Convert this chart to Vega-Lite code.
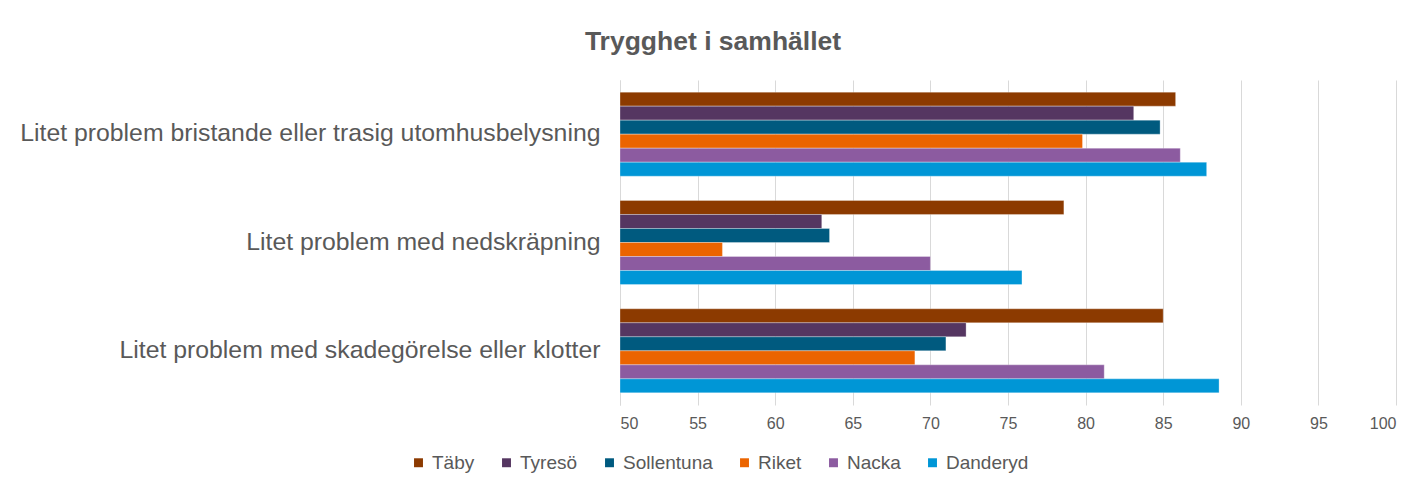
{
  "$schema": "https://vega.github.io/schema/vega-lite/v6.json",
  "autosize": "none",
  "width": 776,
  "height": 325,
  "padding": {"left": 620, "top": 80, "right": 25, "bottom": 74},
  "background": "white",
  "title": {"text": "Trygghet i samhället", "anchor": "middle", "dx": -295, "offset": 25, "font": "Liberation Sans", "fontSize": 26.5, "fontWeight": "bold", "color": "#595959"},
  "data": {"values": [
    {"kategori": "Litet problem bristande eller trasig utomhusbelysning", "serie": "Täby", "varde": 85.8},
    {"kategori": "Litet problem bristande eller trasig utomhusbelysning", "serie": "Tyresö", "varde": 83.1},
    {"kategori": "Litet problem bristande eller trasig utomhusbelysning", "serie": "Sollentuna", "varde": 84.8},
    {"kategori": "Litet problem bristande eller trasig utomhusbelysning", "serie": "Riket", "varde": 79.8},
    {"kategori": "Litet problem bristande eller trasig utomhusbelysning", "serie": "Nacka", "varde": 86.1},
    {"kategori": "Litet problem bristande eller trasig utomhusbelysning", "serie": "Danderyd", "varde": 87.8},
    {"kategori": "Litet problem med nedskräpning", "serie": "Täby", "varde": 78.6},
    {"kategori": "Litet problem med nedskräpning", "serie": "Tyresö", "varde": 63.0},
    {"kategori": "Litet problem med nedskräpning", "serie": "Sollentuna", "varde": 63.5},
    {"kategori": "Litet problem med nedskräpning", "serie": "Riket", "varde": 56.6},
    {"kategori": "Litet problem med nedskräpning", "serie": "Nacka", "varde": 70.0},
    {"kategori": "Litet problem med nedskräpning", "serie": "Danderyd", "varde": 75.9},
    {"kategori": "Litet problem med skadegörelse eller klotter", "serie": "Täby", "varde": 85.0},
    {"kategori": "Litet problem med skadegörelse eller klotter", "serie": "Tyresö", "varde": 72.3},
    {"kategori": "Litet problem med skadegörelse eller klotter", "serie": "Sollentuna", "varde": 71.0},
    {"kategori": "Litet problem med skadegörelse eller klotter", "serie": "Riket", "varde": 69.0},
    {"kategori": "Litet problem med skadegörelse eller klotter", "serie": "Nacka", "varde": 81.2},
    {"kategori": "Litet problem med skadegörelse eller klotter", "serie": "Danderyd", "varde": 88.6}
  ]},
  "mark": {"type": "bar", "stroke": "white", "strokeWidth": 0.5, "strokeOpacity": 0.6},
  "encoding": {
    "y": {
      "field": "kategori", "type": "nominal",
      "sort": ["Litet problem bristande eller trasig utomhusbelysning", "Litet problem med nedskräpning", "Litet problem med skadegörelse eller klotter"],
      "scale": {"paddingInner": 0.224, "paddingOuter": 0.112},
      "axis": {"title": null, "domain": true, "domainColor": "#d9d9d9", "domainWidth": 1, "ticks": false, "grid": false, "labelFont": "Liberation Sans", "labelFontSize": 24.8, "labelColor": "#595959", "labelPadding": 20, "labelLimit": 0}
    },
    "yOffset": {
      "field": "serie", "type": "nominal",
      "sort": ["Täby", "Tyresö", "Sollentuna", "Riket", "Nacka", "Danderyd"],
      "scale": {"paddingInner": 0, "paddingOuter": 0}
    },
    "x": {
      "field": "varde", "type": "quantitative",
      "scale": {"domain": [50, 100], "zero": false, "nice": false},
      "axis": {"title": null, "values": [50, 55, 60, 65, 70, 75, 80, 85, 90, 95, 100], "grid": true, "gridColor": "#d9d9d9", "gridWidth": 1, "domain": false, "ticks": false, "labelFont": "Liberation Sans", "labelFontSize": 16, "labelColor": "#595959", "labelPadding": 10}
    },
    "x2": {"datum": 50},
    "color": {
      "field": "serie", "type": "nominal",
      "sort": ["Täby", "Tyresö", "Sollentuna", "Riket", "Nacka", "Danderyd"],
      "scale": {"domain": ["Täby", "Tyresö", "Sollentuna", "Riket", "Nacka", "Danderyd"], "range": ["#8C3A00", "#553661", "#005A7F", "#EB6400", "#8C5BA0", "#0096D6"]},
      "legend": {"title": null, "orient": "none", "legendX": -211, "legendY": 373, "direction": "horizontal", "symbolType": "square", "symbolSize": 80, "symbolStrokeWidth": 0, "labelFont": "Liberation Sans", "labelFontSize": 19, "labelColor": "#595959", "labelOffset": 4, "columnPadding": 22}
    }
  },
  "config": {"view": {"stroke": null}}
}
